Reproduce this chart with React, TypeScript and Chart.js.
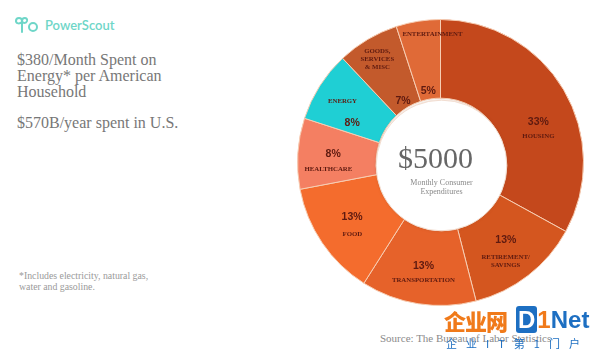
import React, { useEffect, useRef } from "react";
import { Chart, registerables } from "chart.js";

Chart.register(...registerables);

const categories = [
  "HOUSING",
  "RETIREMENT/\nSAVINGS",
  "TRANSPORTATION",
  "FOOD",
  "HEALTHCARE",
  "ENERGY",
  "GOODS,\nSERVICES\n& MISC",
  "ENTERTAINMENT",
];
const shares = [33, 13, 13, 13, 8, 8, 7, 5];
const centerValue = "$5000";
const centerCaption = ["Monthly Consumer", "Expenditures"];

const sliceColors = [
  "#c4481c",
  "#d4561f",
  "#e6622a",
  "#f46c2d",
  "#f47f62",
  "#1fcfd4",
  "#c35a2c",
  "#e06a37",
];

// label placement inside each slice: t = fraction along the arc, rf = fraction across the ring
const pctPlace = [
  { t: 0.567, rf: 0.53 },
  { t: 0.449, rf: 0.47 },
  { t: 0.506, rf: 0.52 },
  { t: 0.558, rf: 0.5 },
  { t: 0.524, rf: 0.55 },
  { t: 0.205, rf: 0.41 },
  { t: 0.476, rf: 0.1 },
  { t: 0.46, rf: 0.1 },
];
const namePlace = [
  { t: 0.632, rf: 0.47 },
  { t: 0.596, rf: 0.69 },
  { t: 0.485, rf: 0.69 },
  { t: 0.39, rf: 0.63 },
  { t: 0.25, rf: 0.61 },
  { t: 0.483, rf: 0.65 },
  { t: 0.464, rf: 0.72 },
  { t: 0.8, rf: 0.81 },
];

const labelPlugin = {
  id: "sliceLabels",
  afterDatasetsDraw(chart: any) {
    const meta = chart.getDatasetMeta(0);
    const ctx = chart.ctx;
    ctx.save();
    let cx = 0,
      cy = 0,
      inner = 0;
    meta.data.forEach((arc: any, i: number) => {
      const p = arc.getProps(["x", "y", "startAngle", "endAngle", "innerRadius", "outerRadius"], true);
      cx = p.x;
      cy = p.y;
      inner = p.innerRadius;
      const pos = (pl: { t: number; rf: number }) => {
        const a = p.startAngle + pl.t * (p.endAngle - p.startAngle);
        const r = p.innerRadius + pl.rf * (p.outerRadius - p.innerRadius);
        return { x: p.x + r * Math.cos(a), y: p.y + r * Math.sin(a) };
      };
      ctx.fillStyle = "#5e1a10";
      ctx.textAlign = "center";
      ctx.textBaseline = "middle";
      const pp = pos(pctPlace[i]);
      ctx.font = "bold 10.5px 'Liberation Sans', Arial, sans-serif";
      ctx.fillText(shares[i] + "%", pp.x, pp.y);
      const np = pos(namePlace[i]);
      ctx.font = "bold 6.8px 'Liberation Serif', 'Times New Roman', serif";
      const lines = categories[i].split("\n");
      const lh = 8;
      lines.forEach((ln, k) => {
        ctx.fillText(ln, np.x, np.y + (k - (lines.length - 1) / 2) * lh);
      });
    });
    // inner circle edge
    ctx.beginPath();
    ctx.arc(cx + 1, cy + 3, inner + 1, 0, Math.PI * 2);
    ctx.fillStyle = "#ffffff";
    ctx.shadowColor = "rgba(150,80,40,0.35)";
    ctx.shadowBlur = 3;
    ctx.fill();
    ctx.shadowBlur = 0;
    ctx.strokeStyle = "#f2ddd0";
    ctx.lineWidth = 1;
    ctx.stroke();
    // center text
    ctx.fillStyle = "#666666";
    ctx.textAlign = "center";
    ctx.textBaseline = "alphabetic";
    ctx.font = "30px 'Liberation Serif', 'Times New Roman', serif";
    ctx.fillText(centerValue, cx - 5, cy + 5);
    ctx.fillStyle = "#8a8a8a";
    ctx.font = "8px 'Liberation Serif', 'Times New Roman', serif";
    centerCaption.forEach((ln, k) => {
      ctx.fillText(ln, cx + 1, cy + 22 + k * 9);
    });
    ctx.restore();
  },
};

function DonutChart() {
  const ref = useRef<HTMLCanvasElement | null>(null);
  useEffect(() => {
    if (!ref.current) return;
    const chart = new Chart(ref.current, {
      type: "doughnut",
      data: {
        labels: categories.map((c) => c.replace(/\n/g, " ")),
        datasets: [
          {
            data: shares,
            backgroundColor: sliceColors,
            borderColor: "#f6cdb3",
            borderWidth: 1,
          },
        ],
      },
      options: {
        animation: false,
        responsive: false,
        cutout: "45%",
        rotation: 0,
        layout: { padding: 0 },
        plugins: {
          legend: { display: false },
          tooltip: { enabled: false },
        },
      },
      plugins: [labelPlugin],
    });
    return () => chart.destroy();
  }, []);
  return (
    <canvas
      ref={ref}
      width={287}
      height={287}
      style={{ position: "absolute", left: 297, top: 19, width: 287, height: 287 }}
    />
  );
}

const serif = "'Liberation Serif', 'Times New Roman', serif";

export default function App() {
  return (
    <div
      style={{
        position: "fixed",
        left: 0,
        top: 0,
        width: 600,
        height: 351,
        background: "#ffffff",
        overflow: "hidden",
        fontFamily: serif,
      }}
    >
      {/* logo */}
      <svg
        width={26}
        height={18}
        viewBox="0 0 26 18"
        style={{ position: "absolute", left: 14, top: 16 }}
      >
        <path
          d="M2 5 C2 1, 8 1, 8 5 C8 1, 14 1, 13 5 C12 8, 8 7, 8 5 L8 16"
          fill="none"
          stroke="#6fd6c8"
          strokeWidth={2}
          strokeLinecap="round"
        />
        <path d="M2 5 C2 8, 6 8, 8 6" fill="none" stroke="#6fd6c8" strokeWidth={2} strokeLinecap="round" />
        <circle cx={19} cy={11} r={4} fill="none" stroke="#6fd6c8" strokeWidth={2} />
      </svg>
      <div
        style={{
          position: "absolute",
          left: 45,
          top: 17,
          fontFamily: "Lato, 'Open Sans', sans-serif",
          fontSize: 13,
          lineHeight: "16px",
          color: "#6fd6c8",
          fontWeight: 600,
        }}
      >
        PowerScout
      </div>
      <div
        style={{
          position: "absolute",
          left: 17,
          top: 52,
          fontSize: 16,
          lineHeight: "16px",
          color: "#777777",
          whiteSpace: "nowrap",
        }}
      >
        $380/Month Spent on
        <br />
        Energy* per American
        <br />
        Household
      </div>
      <div
        style={{
          position: "absolute",
          left: 17,
          top: 115,
          fontSize: 16,
          lineHeight: "16px",
          color: "#777777",
          whiteSpace: "nowrap",
        }}
      >
        $570B/year spent in U.S.
      </div>
      <div
        style={{
          position: "absolute",
          left: 19,
          top: 270,
          fontSize: 9.8,
          lineHeight: "11px",
          color: "#9a9a9a",
          whiteSpace: "nowrap",
        }}
      >
        *Includes electricity, natural gas,
        <br />
        water and gasoline.
      </div>

      <DonutChart />

      <div
        style={{
          position: "absolute",
          left: 380,
          top: 331,
          fontSize: 11,
          lineHeight: "14px",
          color: "#8a8a8a",
          whiteSpace: "nowrap",
        }}
      >
        Source: The Bureau of Labor Statistics
      </div>

      {/* watermark */}
      <div
        style={{
          position: "absolute",
          left: 444,
          top: 307,
          fontFamily: "'Noto Sans CJK SC', sans-serif",
          fontWeight: 900,
          fontSize: 22,
          lineHeight: "26px",
          color: "#f07a1a",
          letterSpacing: -1,
          whiteSpace: "nowrap",
        }}
      >
        企业网
      </div>
      <div
        style={{
          position: "absolute",
          left: 516,
          top: 308,
          fontFamily: "'Liberation Sans', Arial, sans-serif",
          fontWeight: 700,
          fontSize: 24,
          lineHeight: "24px",
          whiteSpace: "nowrap",
        }}
      >
        <span style={{ background: "#1d6fc2", color: "#ffffff", padding: "0 2px", borderRadius: 3 }}>D</span>
        <span style={{ color: "#f07a1a" }}>1</span>
        <span style={{ color: "#1d6fc2" }}>Net</span>
      </div>
      <div
        style={{
          position: "absolute",
          left: 446,
          top: 336,
          fontFamily: "'Noto Sans CJK SC', sans-serif",
          fontSize: 11,
          lineHeight: "14px",
          color: "#1d6fc2",
          letterSpacing: 9,
          whiteSpace: "nowrap",
        }}
      >
        企业IT第1门户
      </div>
    </div>
  );
}
